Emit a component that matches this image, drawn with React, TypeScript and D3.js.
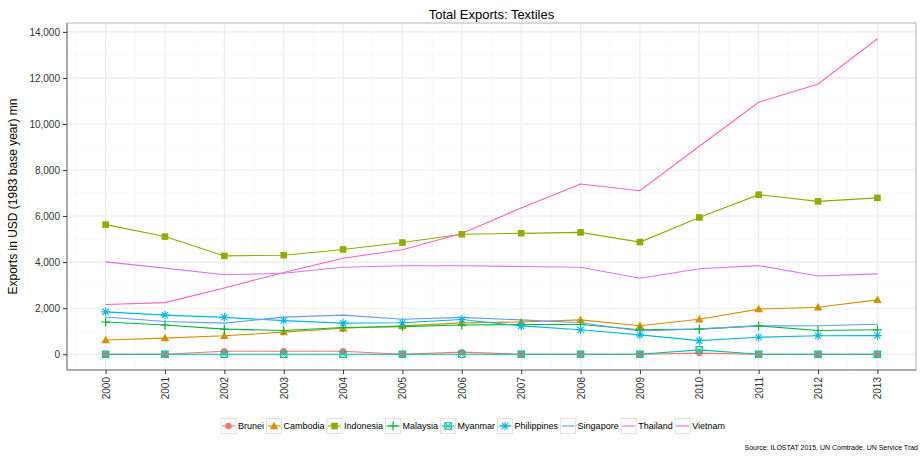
import { useEffect, useRef } from "react";
import * as d3 from "d3";

const years = [2000, 2001, 2002, 2003, 2004, 2005, 2006, 2007, 2008, 2009, 2010, 2011, 2012, 2013];

const brunei = [0, 0, 130, 130, 130, 0, 90, 0, 0, 0, 50, 0, 0, 0];
const cambodia = [620, 700, 800, 960, 1130, 1230, 1360, 1400, 1490, 1240, 1520, 1960, 2040, 2360];
const indonesia = [5630, 5110, 4270, 4300, 4550, 4850, 5210, 5250, 5290, 4870, 5940, 6930, 6640, 6790];
const malaysia = [1400, 1270, 1090, 1030, 1160, 1200, 1270, 1290, 1290, 1060, 1090, 1230, 1030, 1060];
const myanmar = [0, 0, 0, 0, 0, 0, 0, 0, 0, 0, 190, 0, 0, 0];
const philippines = [1840, 1700, 1600, 1460, 1350, 1370, 1510, 1230, 1060, 840, 590, 740, 800, 810];
const singapore = [1620, 1420, 1350, 1610, 1700, 1520, 1600, 1490, 1370, 1010, 1100, 1230, 1240, 1300];
const thailand = [4010, 3740, 3450, 3520, 3780, 3840, 3840, 3810, 3780, 3300, 3710, 3850, 3400, 3490];
const vietnam = [2160, 2240, 2880, 3550, 4170, 4540, 5240, 6350, 7390, 7100, 9030, 10940, 11740, 13700];

const countries = ["Brunei", "Cambodia", "Indonesia", "Malaysia", "Myanmar", "Philippines", "Singapore", "Thailand", "Vietnam"];
const seriesValues = [brunei, cambodia, indonesia, malaysia, myanmar, philippines, singapore, thailand, vietnam];
const colors = ["#F8766D", "#D39200", "#93AA00", "#00BA38", "#00C19F", "#00B9E3", "#619CFF", "#DB72FB", "#FF61C3"];
const shapes = ["circle", "triangle", "square", "plus", "boxx", "asterisk", "none", "none", "none"];

const yTicks = [0, 2000, 4000, 6000, 8000, 10000, 12000, 14000];

const W = 921;
const H = 459;
const FONT = "'Liberation Sans', Arial, sans-serif";

function drawShape(g: d3.Selection<SVGGElement, unknown, null, undefined>, shape: string, color: string, cx: number, cy: number) {
  if (shape === "circle") {
    g.append("circle").attr("cx", cx).attr("cy", cy).attr("r", 3.2).attr("fill", color);
  } else if (shape === "triangle") {
    const s = 4.3;
    g.append("path")
      .attr("d", `M${cx},${cy - s}L${cx + s},${cy + s * 0.75}L${cx - s},${cy + s * 0.75}Z`)
      .attr("fill", color);
  } else if (shape === "square") {
    g.append("rect").attr("x", cx - 3.3).attr("y", cy - 3.3).attr("width", 6.6).attr("height", 6.6).attr("fill", color);
  } else if (shape === "plus") {
    const s = 4.5;
    g.append("path")
      .attr("d", `M${cx - s},${cy}H${cx + s}M${cx},${cy - s}V${cy + s}`)
      .attr("stroke", color).attr("stroke-width", 1.2).attr("fill", "none");
  } else if (shape === "boxx") {
    const s = 3.2;
    g.append("rect").attr("x", cx - s).attr("y", cy - s).attr("width", 2 * s).attr("height", 2 * s)
      .attr("stroke", color).attr("stroke-width", 1.1).attr("fill", "none");
    g.append("path")
      .attr("d", `M${cx - s},${cy - s}L${cx + s},${cy + s}M${cx + s},${cy - s}L${cx - s},${cy + s}`)
      .attr("stroke", color).attr("stroke-width", 1).attr("fill", "none");
  } else if (shape === "asterisk") {
    const s = 4.3;
    const d = s * 0.72;
    g.append("path")
      .attr("d", `M${cx - s},${cy}H${cx + s}M${cx},${cy - s}V${cy + s}M${cx - d},${cy - d}L${cx + d},${cy + d}M${cx + d},${cy - d}L${cx - d},${cy + d}`)
      .attr("stroke", color).attr("stroke-width", 1.1).attr("fill", "none");
  }
}

export default function App() {
  const svgRef = useRef<SVGSVGElement>(null);

  useEffect(() => {
    if (!svgRef.current) return;
    const svg = d3.select(svgRef.current);
    svg.selectAll("*").remove();

    const panel = { left: 67, right: 916, top: 23, bottom: 370 };

    // continuous scales with ggplot's 5% expansion
    const xMin = d3.min(years)!;
    const xMax = d3.max(years)!;
    const xPad = (xMax - xMin) * 0.05;
    const x = d3.scaleLinear().domain([xMin - xPad, xMax + xPad]).range([panel.left, panel.right]);

    const allVals = seriesValues.flat();
    const yMin = d3.min(allVals)!;
    const yMax = d3.max(allVals)!;
    const yPad = (yMax - yMin) * 0.05;
    const y = d3.scaleLinear().domain([yMin - yPad, yMax + yPad]).range([panel.bottom, panel.top]);

    svg.append("rect").attr("width", W).attr("height", H).attr("fill", "white");

    // minor grid
    const minorX = years.slice(0, -1).map((yr) => yr + 0.5).concat([xMin - 0.5]);
    const minorY = yTicks.map((t) => t + 1000).concat([-1000]).filter((v) => y(v) > panel.top && y(v) < panel.bottom);
    const grid = svg.append("g");
    minorX.forEach((v) => {
      if (x(v) <= panel.left || x(v) >= panel.right) return;
      grid.append("line").attr("x1", x(v)).attr("x2", x(v)).attr("y1", panel.top).attr("y2", panel.bottom)
        .attr("stroke", "#F5F5F5").attr("stroke-width", 0.6);
    });
    minorY.forEach((v) => {
      grid.append("line").attr("x1", panel.left).attr("x2", panel.right).attr("y1", y(v)).attr("y2", y(v))
        .attr("stroke", "#F5F5F5").attr("stroke-width", 0.6);
    });
    // major grid
    years.forEach((v) => {
      grid.append("line").attr("x1", x(v)).attr("x2", x(v)).attr("y1", panel.top).attr("y2", panel.bottom)
        .attr("stroke", "#EBEBEB").attr("stroke-width", 1.1);
    });
    yTicks.forEach((v) => {
      grid.append("line").attr("x1", panel.left).attr("x2", panel.right).attr("y1", y(v)).attr("y2", y(v))
        .attr("stroke", "#EBEBEB").attr("stroke-width", 1.1);
    });

    // lines
    const line = d3.line<number>().x((_, i) => x(years[i])).y((d) => y(d));
    const linesG = svg.append("g");
    seriesValues.forEach((vals, k) => {
      linesG.append("path").attr("d", line(vals)).attr("fill", "none")
        .attr("stroke", colors[k]).attr("stroke-width", 1.1);
    });

    // points
    const ptsG = svg.append("g");
    seriesValues.forEach((vals, k) => {
      vals.forEach((v, i) => drawShape(ptsG, shapes[k], colors[k], x(years[i]), y(v)));
    });

    // panel border
    svg.append("rect").attr("x", panel.left).attr("y", panel.top)
      .attr("width", panel.right - panel.left).attr("height", panel.bottom - panel.top)
      .attr("fill", "none").attr("stroke", "#B3B3B3").attr("stroke-width", 1);
    svg.append("line").attr("x1", panel.left).attr("x2", panel.left).attr("y1", panel.top).attr("y2", panel.bottom)
      .attr("stroke", "#7F7F7F").attr("stroke-width", 1);
    svg.append("line").attr("x1", panel.left).attr("x2", panel.right).attr("y1", panel.bottom).attr("y2", panel.bottom)
      .attr("stroke", "#7F7F7F").attr("stroke-width", 1);

    // y axis
    const yAxis = svg.append("g").attr("transform", `translate(${panel.left},0)`)
      .call(d3.axisLeft(y).tickValues(yTicks).tickSize(4).tickPadding(3).tickFormat((d) => d3.format(",")(d as number)));
    yAxis.select(".domain").remove();
    yAxis.selectAll("line").attr("stroke", "#333333");
    yAxis.selectAll("text").attr("fill", "#333333").attr("font-size", 10).attr("font-family", FONT);

    // x axis
    const xAxis = svg.append("g").attr("transform", `translate(0,${panel.bottom})`)
      .call(d3.axisBottom(x).tickValues(years).tickSize(4).tickFormat((d) => String(d)));
    xAxis.select(".domain").remove();
    xAxis.selectAll("line").attr("stroke", "#333333");
    xAxis.selectAll("text")
      .attr("fill", "#333333").attr("font-size", 10).attr("font-family", FONT)
      .attr("transform", "rotate(-90)")
      .attr("text-anchor", "end")
      .attr("x", -7).attr("y", 0).attr("dy", "0.35em");

    // titles
    svg.append("text").attr("x", (panel.left + panel.right) / 2).attr("y", 19)
      .attr("text-anchor", "middle").attr("font-size", 13).attr("font-family", FONT).attr("fill", "black")
      .text("Total Exports: Textiles");
    svg.append("text").attr("transform", `translate(17,${(panel.top + panel.bottom) / 2}) rotate(-90)`)
      .attr("text-anchor", "middle").attr("font-size", 12).attr("font-family", FONT).attr("fill", "black")
      .text("Exports in USD (1983 base year) mn");

    // legend
    const ctx = document.createElement("canvas").getContext("2d")!;
    const lfs = 9;
    ctx.font = `${lfs}px ${FONT}`;
    const key = 15;
    const gap = 2;
    const itemGap = 2.5;
    const widths = countries.map((c) => key + gap + ctx.measureText(c).width);
    let lx = 221;
    const ly = 426;
    const legend = svg.append("g");
    countries.forEach((c, k) => {
      const g = legend.append("g");
      g.append("rect").attr("x", lx).attr("y", ly - key / 2).attr("width", key).attr("height", key)
        .attr("fill", "white").attr("stroke", "#D9D9D9").attr("stroke-width", 0.8);
      g.append("line").attr("x1", lx + 1).attr("x2", lx + key - 1).attr("y1", ly).attr("y2", ly)
        .attr("stroke", colors[k]).attr("stroke-width", 1.1);
      drawShape(g as any, shapes[k], colors[k], lx + key / 2, ly);
      g.append("text").attr("x", lx + key + gap).attr("y", ly + 3.2)
        .attr("font-size", lfs).attr("font-family", FONT).attr("fill", "black").text(c);
      lx += widths[k] + itemGap;
    });

    svg.append("text").attr("x", 918).attr("y", 450).attr("text-anchor", "end")
      .attr("font-size", 7).attr("font-family", FONT).attr("fill", "black")
      .text("Source: ILOSTAT 2015, UN Comtrade, UN Service Trad");
  }, []);

  return (
    <svg ref={svgRef} width={W} height={H}
      style={{ position: "absolute", left: 0, top: 0, display: "block", overflow: "hidden" }} />
  );
}
